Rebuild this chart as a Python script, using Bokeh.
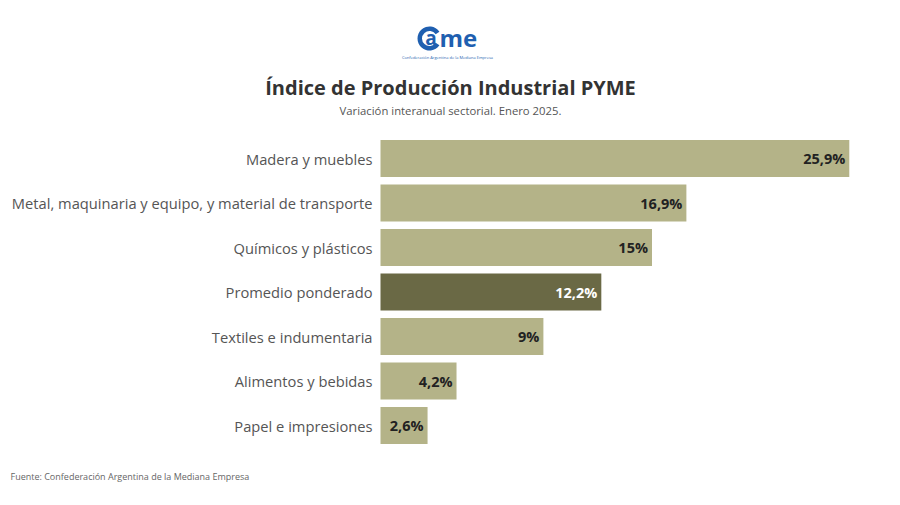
from bokeh.plotting import figure
from bokeh.models import Range1d, Label, ColumnDataSource
from bokeh.core.properties import value
from bokeh.embed import file_html
from bokeh.resources import INLINE

categories = ["Madera y muebles",
              "Metal, maquinaria y equipo, y material de transporte",
              "Químicos y plásticos",
              "Promedio ponderado",
              "Textiles e indumentaria",
              "Alimentos y bebidas",
              "Papel e impresiones"]
values = [25.9, 16.9, 15.0, 12.2, 9.0, 4.2, 2.6]
value_labels = ["25,9%", "16,9%", "15%", "12,2%", "9%", "4,2%", "2,6%"]
highlight = "Promedio ponderado"

title = "Índice de Producción Industrial PYME"
subtitle = "Variación interanual sectorial. Enero 2025."
source_note = "Fuente: Confederación Argentina de la Mediana Empresa"
logo_caption = "Confederación Argentina de la Mediana Empresa"

LIGHT = "#b4b388"
DARK = "#6a6945"
FONT = "Open Sans"

W, H = 884, 489
ORIGIN = 0              # page offset of the figure
XSCALE = 18.1           # px per unit
X0 = -(380 - ORIGIN) / XSCALE
X1 = X0 + W / XSCALE
n = len(categories)
YUNIT = 44.5
top_center = 158 - ORIGIN
Y1 = (n - 1) + top_center / YUNIT
Y0 = Y1 - H / YUNIT


def px_x(px):
    return X0 + (px - ORIGIN) / XSCALE


def px_y(py):
    return Y1 - (py - ORIGIN) / YUNIT


ypos = [n - 1 - i for i in range(n)]
colors = [DARK if c == highlight else LIGHT for c in categories]
lbl_colors = ["#ffffff" if c == highlight else "#222222" for c in categories]

src = ColumnDataSource(dict(cat=categories, val=values, y=ypos, col=colors,
                            lab=value_labels, lcol=lbl_colors,
                            zero=[0] * n))

p = figure(width=W, height=H, output_backend="svg", toolbar_location=None,
           x_range=Range1d(X0, X1), y_range=Range1d(Y0, Y1),
           min_border=0, x_axis_location=None, y_axis_location=None)
p.outline_line_color = None
p.grid.visible = False
p.background_fill_color = "white"
p.border_fill_color = "white"

p.hbar(y="y", left=0, right="val", height=37 / YUNIT, fill_color="col",
       line_color=None, source=src)

p.text(x="val", y="y", text="lab", text_color="lcol", source=src,
       text_align="right", text_baseline="middle", x_offset=-4,
       text_font=value(FONT), text_font_size="14.5px", text_font_style="bold")

p.text(x="zero", y="y", text="cat", source=src, text_color="#555555",
       text_align="right", text_baseline="middle", x_offset=-8,
       text_font=value(FONT), text_font_size="14.7px")

p.add_layout(Label(x=px_x(450), y=px_y(87), text=title, text_align="center",
                   text_baseline="middle", text_font=FONT,
                   text_font_size="20px", text_font_style="bold",
                   text_color="#333333"))
p.add_layout(Label(x=px_x(450), y=px_y(110), text=subtitle,
                   text_align="center", text_baseline="middle",
                   text_font=FONT, text_font_size="11.3px",
                   text_color="#555555"))
p.add_layout(Label(x=px_x(10), y=px_y(476), text=source_note,
                   text_align="left", text_baseline="middle",
                   text_font=FONT, text_font_size="9px",
                   text_color="#666666"))

# logo
BLUE = "#1f5fb0"
p.annular_wedge(x=[px_x(429)], y=[px_y(38)], inner_radius=7.5,
                outer_radius=12, inner_radius_units="screen",
                outer_radius_units="screen", start_angle=0.6,
                end_angle=-0.6, direction="anticlock",
                fill_color=BLUE, line_color=None)
p.add_layout(Label(x=px_x(430.5), y=px_y(37), text="a", text_align="center",
                   text_baseline="middle", text_font=FONT,
                   text_font_size="19px", text_font_style="bold",
                   text_color=BLUE))
p.add_layout(Label(x=px_x(439), y=px_y(36.5), text="me", text_align="left",
                   text_baseline="middle", text_font=FONT,
                   text_font_size="24px", text_font_style="bold",
                   text_color=BLUE))
p.add_layout(Label(x=px_x(447), y=px_y(57), text=logo_caption,
                   text_align="center", text_baseline="middle",
                   text_font=FONT, text_font_size="4px",
                   text_color=BLUE))

open("out.html", "w").write(file_html(p, INLINE))
